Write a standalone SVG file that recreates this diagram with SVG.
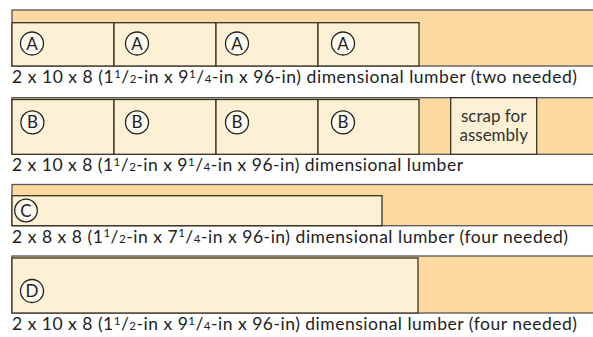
<svg xmlns="http://www.w3.org/2000/svg" width="593" height="337" viewBox="0 0 593 337">
<style>
.board{fill:#fbd9a0;stroke:#555;stroke-width:1.3}
.piece{fill:#fcf1d4;stroke:#3a3226;stroke-width:1.3}
.tag circle{fill:#fffaf0;stroke:#222;stroke-width:1.3}
.tag text,.lbl{font-family:Lato,"Open Sans","Liberation Sans",sans-serif;fill:#222}
.tag text{font-size:17px;text-anchor:middle}
.lbl{font-size:17.5px}
.sm{font-size:11.5px}
.scrap{font-family:Lato,"Open Sans","Liberation Sans",sans-serif;font-size:17px;fill:#333;text-anchor:middle}
</style>
<rect width="593" height="337" fill="#fff"/>
<g id="board1">
<rect class="board" x="12" y="10" width="590" height="56"/>
<rect class="piece" x="12" y="22.7" width="102" height="43.3"/>
<rect class="piece" x="114" y="22.7" width="102" height="43.3"/>
<rect class="piece" x="216" y="22.7" width="102" height="43.3"/>
<rect class="piece" x="318" y="22.7" width="101" height="43.3"/>
<g class="tag"><circle cx="32" cy="43.5" r="11.5"/><text x="32" y="49.5">A</text></g>
<g class="tag"><circle cx="137" cy="43.5" r="11.5"/><text x="137" y="49.5">A</text></g>
<g class="tag"><circle cx="237" cy="43.5" r="11.5"/><text x="237" y="49.5">A</text></g>
<g class="tag"><circle cx="343" cy="43.5" r="11.5"/><text x="343" y="49.5">A</text></g>
<text class="lbl" x="12" y="83" textLength="565" lengthAdjust="spacing">2 x 10 x 8 (1<tspan class="sm" dy="-5.5">1</tspan><tspan dy="5.5">/</tspan><tspan class="sm">2</tspan>-in x 9<tspan class="sm" dy="-5.5">1</tspan><tspan dy="5.5">/</tspan><tspan class="sm">4</tspan>-in x 96-in) dimensional lumber (two needed)</text>
</g>
<g id="board2">
<rect class="board" x="12" y="97.7" width="590" height="56.6"/>
<rect class="piece" x="12" y="99.5" width="102" height="54.8"/>
<rect class="piece" x="114" y="99.5" width="102" height="54.8"/>
<rect class="piece" x="216" y="99.5" width="102" height="54.8"/>
<rect class="piece" x="318" y="99.5" width="101" height="54.8"/>
<rect class="piece" x="450.7" y="97.7" width="86" height="56.6"/>
<g class="tag"><circle cx="32.4" cy="122.4" r="11.5"/><text x="32.4" y="128.4">B</text></g>
<g class="tag"><circle cx="137" cy="122.4" r="11.5"/><text x="137" y="128.4">B</text></g>
<g class="tag"><circle cx="237" cy="122.4" r="11.5"/><text x="237" y="128.4">B</text></g>
<g class="tag"><circle cx="343" cy="122.4" r="11.5"/><text x="343" y="128.4">B</text></g>
<text class="scrap" x="493.7" y="121.5">scrap for</text>
<text class="scrap" x="493.7" y="140.5">assembly</text>
<text class="lbl" x="12" y="171" textLength="451" lengthAdjust="spacing">2 x 10 x 8 (1<tspan class="sm" dy="-5.5">1</tspan><tspan dy="5.5">/</tspan><tspan class="sm">2</tspan>-in x 9<tspan class="sm" dy="-5.5">1</tspan><tspan dy="5.5">/</tspan><tspan class="sm">4</tspan>-in x 96-in) dimensional lumber</text>
</g>
<g id="board3">
<rect class="board" x="12" y="184.5" width="590" height="41.2"/>
<rect class="piece" x="12" y="195.7" width="370" height="30"/>
<g class="tag"><circle cx="26" cy="210.5" r="11.3"/><text x="26" y="216.5">C</text></g>
<text class="lbl" x="12" y="242.5" textLength="556" lengthAdjust="spacing">2 x 8 x 8 (1<tspan class="sm" dy="-5.5">1</tspan><tspan dy="5.5">/</tspan><tspan class="sm">2</tspan>-in x 7<tspan class="sm" dy="-5.5">1</tspan><tspan dy="5.5">/</tspan><tspan class="sm">4</tspan>-in x 96-in) dimensional lumber (four needed)</text>
</g>
<g id="board4">
<rect class="board" x="12" y="256" width="590" height="57"/>
<rect class="piece" x="12" y="258" width="406" height="55"/>
<g class="tag"><circle cx="32" cy="291" r="11.5"/><text x="32" y="297">D</text></g>
<text class="lbl" x="12" y="330" textLength="565" lengthAdjust="spacing">2 x 10 x 8 (1<tspan class="sm" dy="-5.5">1</tspan><tspan dy="5.5">/</tspan><tspan class="sm">2</tspan>-in x 9<tspan class="sm" dy="-5.5">1</tspan><tspan dy="5.5">/</tspan><tspan class="sm">4</tspan>-in x 96-in) dimensional lumber (four needed)</text>
</g>
<g id="connectors"/>
</svg>
